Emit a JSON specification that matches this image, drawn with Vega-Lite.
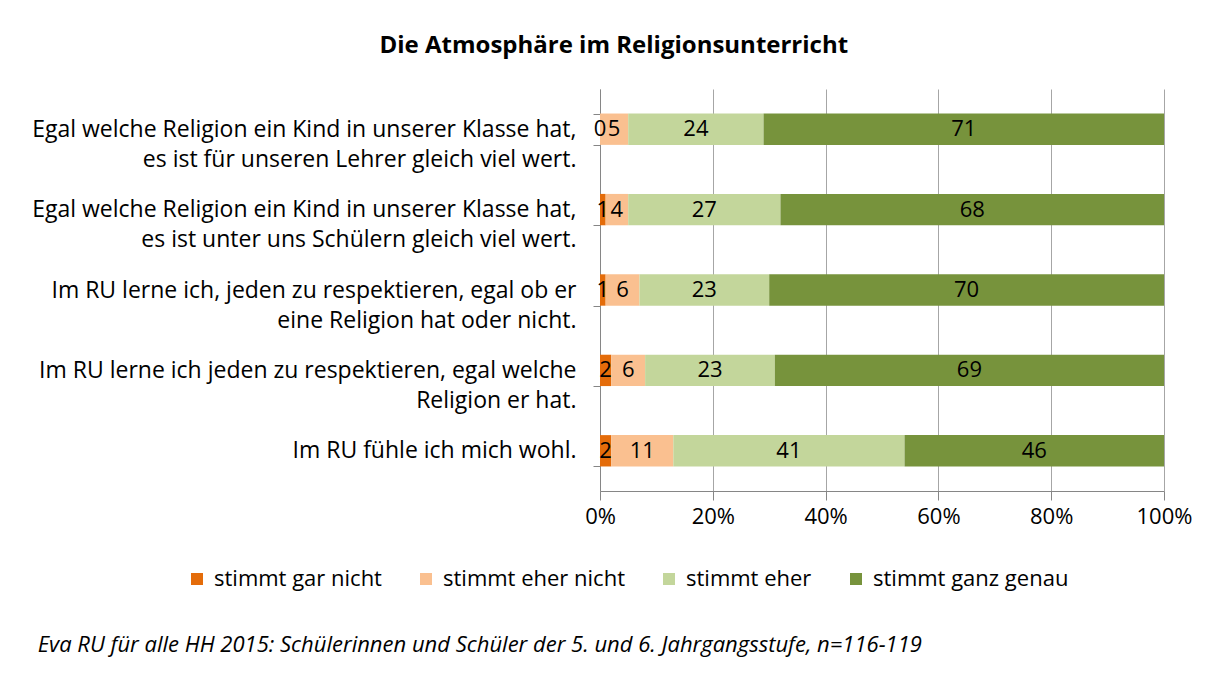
{
  "$schema": "https://vega.github.io/schema/vega-lite/v6.json",
  "background": "white",
  "padding": {"left": 31, "top": 34, "right": 5, "bottom": 5},
  "title": {
    "text": "Die Atmosphäre im Religionsunterricht",
    "anchor": "middle",
    "font": "Open Sans",
    "fontSize": 24,
    "fontWeight": "bold",
    "color": "#000000",
    "offset": 20,
    "dx": 2
  },
  "data": {
    "values": [
      {"q": "Egal welche Religion ein Kind in unserer Klasse hat,|es ist für unseren Lehrer gleich viel wert.", "cat": "stimmt gar nicht", "order": 1, "value": 0},
      {"q": "Egal welche Religion ein Kind in unserer Klasse hat,|es ist für unseren Lehrer gleich viel wert.", "cat": "stimmt eher nicht", "order": 2, "value": 5},
      {"q": "Egal welche Religion ein Kind in unserer Klasse hat,|es ist für unseren Lehrer gleich viel wert.", "cat": "stimmt eher", "order": 3, "value": 24},
      {"q": "Egal welche Religion ein Kind in unserer Klasse hat,|es ist für unseren Lehrer gleich viel wert.", "cat": "stimmt ganz genau", "order": 4, "value": 71},
      {"q": "Egal welche Religion ein Kind in unserer Klasse hat,|es ist unter uns Schülern gleich viel wert.", "cat": "stimmt gar nicht", "order": 1, "value": 1},
      {"q": "Egal welche Religion ein Kind in unserer Klasse hat,|es ist unter uns Schülern gleich viel wert.", "cat": "stimmt eher nicht", "order": 2, "value": 4},
      {"q": "Egal welche Religion ein Kind in unserer Klasse hat,|es ist unter uns Schülern gleich viel wert.", "cat": "stimmt eher", "order": 3, "value": 27},
      {"q": "Egal welche Religion ein Kind in unserer Klasse hat,|es ist unter uns Schülern gleich viel wert.", "cat": "stimmt ganz genau", "order": 4, "value": 68},
      {"q": "Im RU lerne ich, jeden zu respektieren, egal ob er|eine Religion hat oder nicht.", "cat": "stimmt gar nicht", "order": 1, "value": 1},
      {"q": "Im RU lerne ich, jeden zu respektieren, egal ob er|eine Religion hat oder nicht.", "cat": "stimmt eher nicht", "order": 2, "value": 6},
      {"q": "Im RU lerne ich, jeden zu respektieren, egal ob er|eine Religion hat oder nicht.", "cat": "stimmt eher", "order": 3, "value": 23},
      {"q": "Im RU lerne ich, jeden zu respektieren, egal ob er|eine Religion hat oder nicht.", "cat": "stimmt ganz genau", "order": 4, "value": 70},
      {"q": "Im RU lerne ich jeden zu respektieren, egal welche|Religion er hat.", "cat": "stimmt gar nicht", "order": 1, "value": 2},
      {"q": "Im RU lerne ich jeden zu respektieren, egal welche|Religion er hat.", "cat": "stimmt eher nicht", "order": 2, "value": 6},
      {"q": "Im RU lerne ich jeden zu respektieren, egal welche|Religion er hat.", "cat": "stimmt eher", "order": 3, "value": 23},
      {"q": "Im RU lerne ich jeden zu respektieren, egal welche|Religion er hat.", "cat": "stimmt ganz genau", "order": 4, "value": 69},
      {"q": "Im RU fühle ich mich wohl.", "cat": "stimmt gar nicht", "order": 1, "value": 2},
      {"q": "Im RU fühle ich mich wohl.", "cat": "stimmt eher nicht", "order": 2, "value": 11},
      {"q": "Im RU fühle ich mich wohl.", "cat": "stimmt eher", "order": 3, "value": 41},
      {"q": "Im RU fühle ich mich wohl.", "cat": "stimmt ganz genau", "order": 4, "value": 46}
    ]
  },
  "vconcat": [
    {
      "width": 564,
      "height": 402,
      "title": {
        "text": "Eva RU für alle HH 2015: Schülerinnen und Schüler der 5. und 6. Jahrgangsstufe, n=116-119",
        "orient": "bottom",
        "anchor": "start",
        "frame": "bounds",
        "font": "Open Sans",
        "fontSize": 22,
        "fontStyle": "italic",
        "fontWeight": "normal",
        "color": "#000000",
        "offset": 108,
        "dx": 6
      },
      "encoding": {
        "y": {
          "field": "q",
          "type": "nominal",
          "sort": null,
          "scale": {"paddingInner": 0.61, "paddingOuter": 0.305},
          "axis": {
            "title": null,
            "labelExpr": "split(datum.label, '|')",
            "labelFont": "Open Sans",
            "labelFontSize": 23,
            "labelColor": "#000000",
            "labelLineHeight": 30,
            "labelBaseline": "middle",
            "labelLimit": 800,
            "labelAlign": "right",
            "labelPadding": 17,
            "tickBand": "extent",
            "tickSize": 7,
            "tickColor": "#868686",
            "domainColor": "#868686",
            "grid": false
          }
        },
        "x": {
          "field": "value",
          "type": "quantitative",
          "stack": "normalize",
          "axis": {
            "title": null,
            "format": ".0%",
            "values": [0, 0.2, 0.4, 0.6, 0.8, 1],
            "labelFont": "Open Sans",
            "labelFontSize": 22,
            "labelColor": "#000000",
            "labelFlush": false,
            "labelPadding": 6,
            "tickSize": 9,
            "tickColor": "#868686",
            "domainColor": "#868686",
            "grid": true,
            "gridColor": "#A6A6A6"
          }
        },
        "order": {"field": "order", "type": "quantitative"}
      },
      "layer": [
        {
          "mark": {"type": "bar"},
          "encoding": {
            "color": {
              "field": "cat",
              "type": "nominal",
              "scale": {
                "domain": ["stimmt gar nicht", "stimmt eher nicht", "stimmt eher", "stimmt ganz genau"],
                "range": ["#E46C0A", "#FAC090", "#C3D69B", "#77933C"]
              },
              "legend": {
                "title": null,
                "orient": "none",
                "direction": "horizontal",
                "legendX": -414,
                "legendY": 479,
                "symbolType": "square",
                "symbolSize": 144,
                "symbolStrokeWidth": 0,
                "symbolOpacity": 1,
                "labelFont": "Open Sans",
                "labelFontSize": 22,
                "labelColor": "#000000",
                "labelOffset": 6,
                "columnPadding": 33,
                "labelLimit": 400
              }
            }
          }
        },
        {
          "mark": {"type": "text", "font": "Open Sans", "fontSize": 22, "color": "#000000", "baseline": "middle", "align": "center"},
          "encoding": {
            "x": {"field": "value", "type": "quantitative", "stack": "normalize", "bandPosition": 0.5},
            "text": {"field": "value", "type": "quantitative"}
          }
        }
      ]
    }
  ],
  "config": {
    "view": {"stroke": null},
    "axis": {"domainWidth": 1, "tickWidth": 1, "gridWidth": 1}
  }
}
